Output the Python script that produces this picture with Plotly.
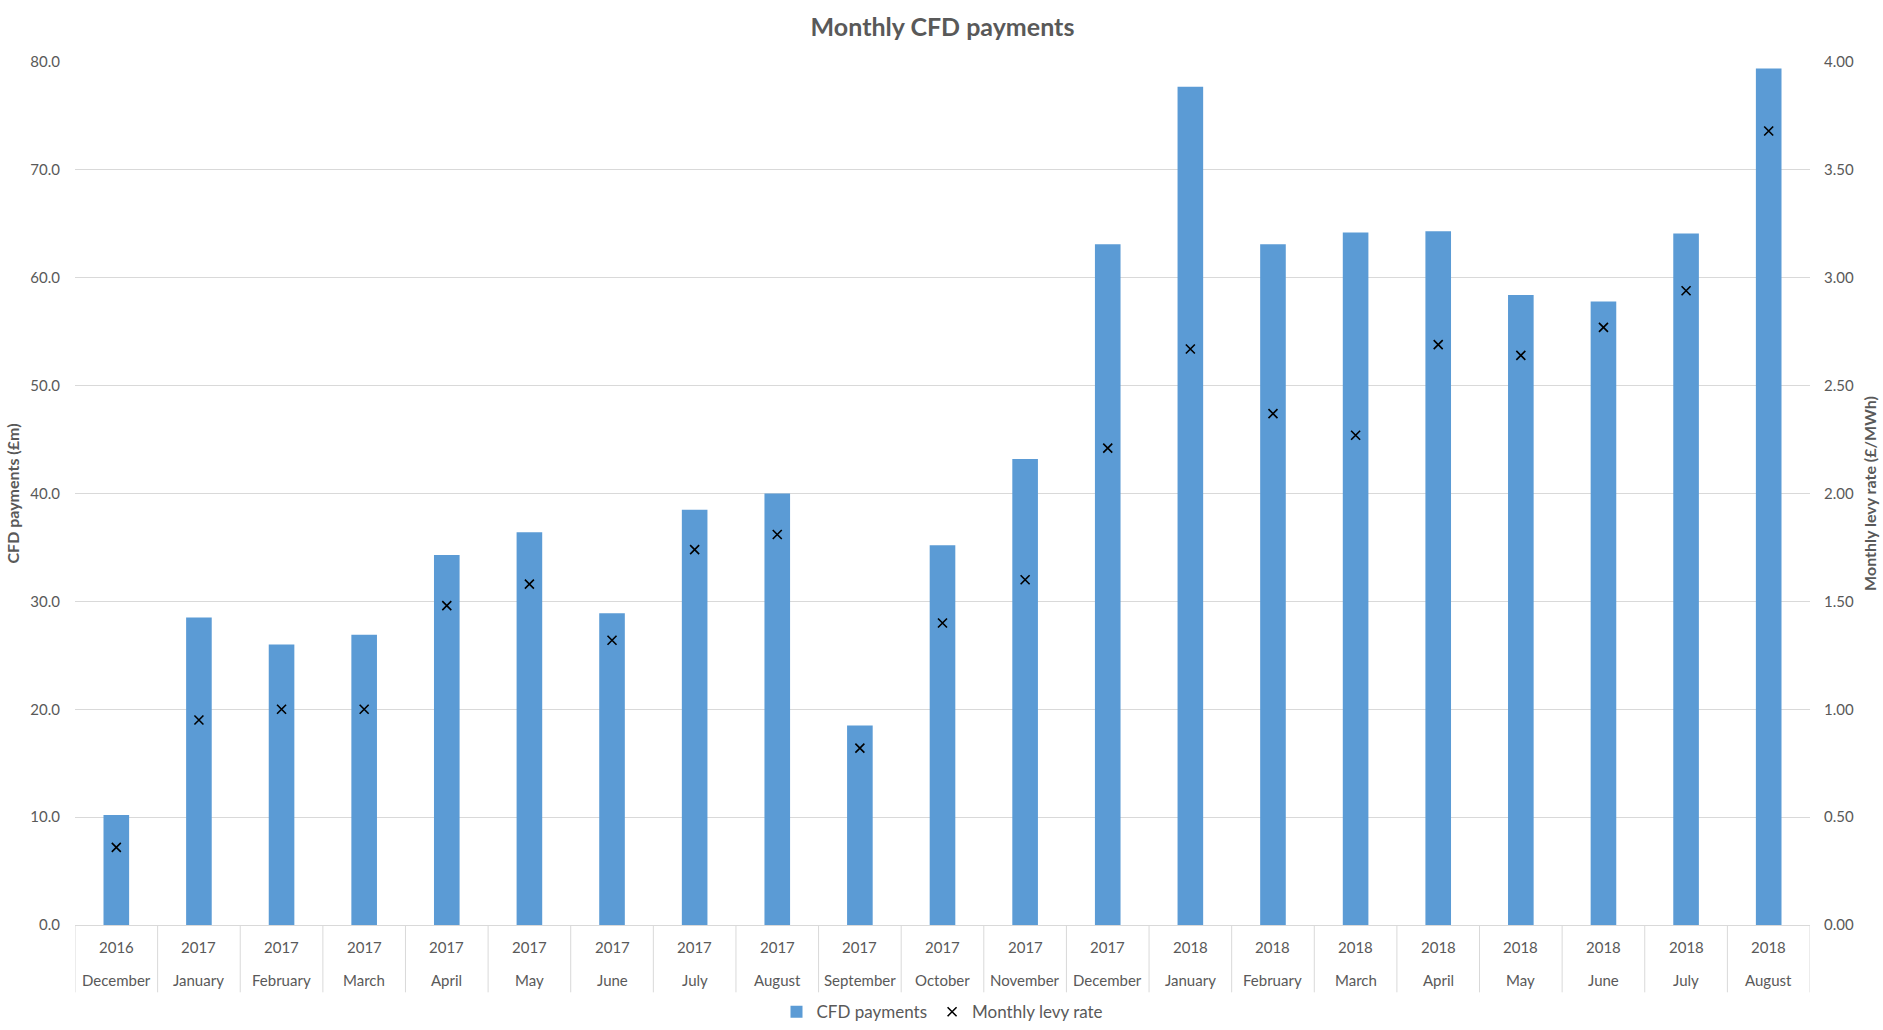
import plotly.graph_objects as go

years = ["2016", "2017", "2017", "2017", "2017", "2017", "2017", "2017", "2017", "2017", "2017",
         "2017", "2017", "2018", "2018", "2018", "2018", "2018", "2018", "2018", "2018"]
months = ["December", "January", "February", "March", "April", "May", "June", "July", "August",
          "September", "October", "November", "December", "January", "February", "March", "April",
          "May", "June", "July", "August"]
cfd_payments = [10.2, 28.5, 26.0, 26.9, 34.3, 36.4, 28.9, 38.5, 40.0, 18.5, 35.2, 43.2,
                63.1, 77.7, 63.1, 64.2, 64.3, 58.4, 57.8, 64.1, 79.4]
levy_rate = [0.36, 0.95, 1.00, 1.00, 1.48, 1.58, 1.32, 1.74, 1.81, 0.82, 1.40, 1.60,
             2.21, 2.67, 2.37, 2.27, 2.69, 2.64, 2.77, 2.94, 3.68]

cats = [f"{y} {m}" for y, m in zip(years, months)]

FONT = "Lato, 'Open Sans', sans-serif"
TXT = "#595959"
GRID = "#D9D9D9"

fig = go.Figure()
fig.add_trace(go.Bar(x=cats, y=cfd_payments, name="CFD payments",
                     marker=dict(color="#5B9BD5", line=dict(width=0))))
fig.add_trace(go.Scatter(x=cats, y=levy_rate, name="Monthly levy rate", mode="markers",
                         yaxis="y2",
                         marker=dict(symbol="x-thin", size=9, color="#000000",
                                     line=dict(width=1.6, color="#000000"))))

n = len(cats)
shapes = []
for i in range(n + 1):
    shapes.append(dict(type="line", xref="x", yref="paper", x0=i - 0.5, x1=i - 0.5,
                       y0=0, y1=-0.078, line=dict(color=GRID, width=1)))

annotations = []
for i, (y, m) in enumerate(zip(years, months)):
    annotations.append(dict(x=cats[i], y=0, xref="x", yref="paper", text=y, showarrow=False,
                            yshift=-22, yanchor="middle", font=dict(family=FONT, size=15, color=TXT)))
    annotations.append(dict(x=cats[i], y=0, xref="x", yref="paper", text=m, showarrow=False,
                            yshift=-55, yanchor="middle", font=dict(family=FONT, size=15, color=TXT)))

fig.update_layout(
    width=1883, height=1030,
    margin=dict(l=75, r=73, t=62, b=105, autoexpand=False),
    paper_bgcolor="white", plot_bgcolor="white",
    title=dict(text="<b>Monthly CFD payments</b>", x=0.5, xref="paper", xanchor="center",
               y=1 - 27 / 1030, yanchor="middle",
               font=dict(family=FONT, size=25, color=TXT)),
    bargap=0.69,
    xaxis=dict(type="category", showticklabels=False, showgrid=False, ticks="",
               showline=True, linecolor=GRID, linewidth=1, range=[-0.5, n - 0.5]),
    yaxis=dict(range=[0, 80], dtick=10, tickformat=".1f", showgrid=True, gridcolor=GRID,
               gridwidth=1, zeroline=False, showline=False, ticks="",
               ticklabelstandoff=14,
               tickfont=dict(family=FONT, size=15, color=TXT),
               title=dict(text="<b>CFD payments (£m)</b>", standoff=6,
                          font=dict(family=FONT, size=16, color=TXT))),
    yaxis2=dict(range=[0, 4], dtick=0.5, tickformat=".2f", overlaying="y", side="right",
                showgrid=False, zeroline=False, showline=False, ticks="",
                ticklabelstandoff=13,
                tickfont=dict(family=FONT, size=15, color=TXT),
                title=dict(text="<b>Monthly levy rate (£/MWh)</b>", standoff=11,
                           font=dict(family=FONT, size=16, color=TXT))),
    legend=dict(orientation="h", x=0.5, xanchor="center", y=-0.101, yanchor="middle",
                font=dict(family=FONT, size=17, color=TXT), itemwidth=30,
                traceorder="normal"),
    shapes=shapes,
    annotations=annotations,
)

fig.write_html("out.html")
